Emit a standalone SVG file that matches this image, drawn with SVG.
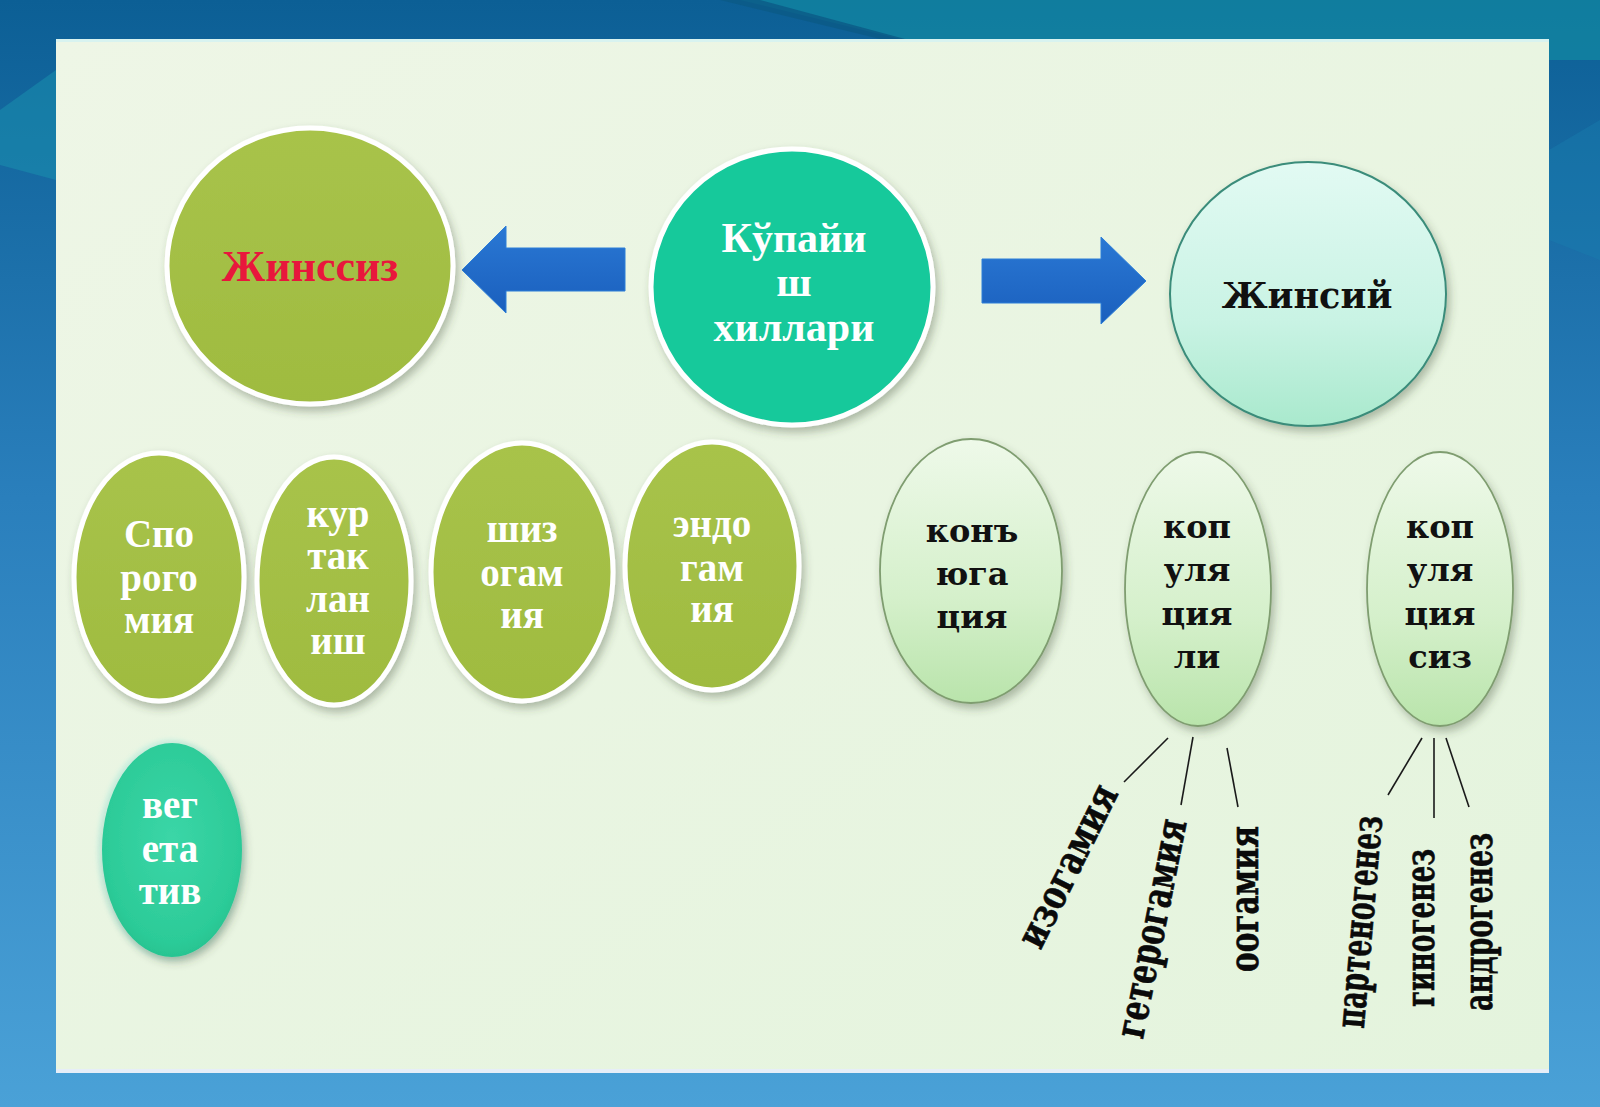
<svg xmlns="http://www.w3.org/2000/svg" width="1600" height="1107" viewBox="0 0 1600 1107">
  <defs>
    <linearGradient id="bg" x1="0" y1="0" x2="0" y2="1">
      <stop offset="0" stop-color="#0c5f95"/>
      <stop offset="0.45" stop-color="#2a7fbc"/>
      <stop offset="1" stop-color="#4aa1d7"/>
    </linearGradient>
    <linearGradient id="panel" x1="0" y1="0" x2="1" y2="1">
      <stop offset="0" stop-color="#eef6e6"/>
      <stop offset="1" stop-color="#e4f4dd"/>
    </linearGradient>
    <linearGradient id="olive" x1="0" y1="0" x2="0" y2="1">
      <stop offset="0" stop-color="#a8c34a"/>
      <stop offset="1" stop-color="#9fbb40"/>
    </linearGradient>
    <radialGradient id="veg" cx="0.5" cy="0.45" r="0.6">
      <stop offset="0" stop-color="#3bd6a7"/>
      <stop offset="0.8" stop-color="#2ccb98"/>
      <stop offset="1" stop-color="#24bf8c"/>
    </radialGradient>
    <linearGradient id="sex" x1="0" y1="0" x2="0" y2="1">
      <stop offset="0" stop-color="#e2faf3"/>
      <stop offset="0.6" stop-color="#c9f3e4"/>
      <stop offset="1" stop-color="#a9e9cd"/>
    </linearGradient>
    <linearGradient id="lg" x1="0" y1="0" x2="0" y2="1">
      <stop offset="0" stop-color="#eef9e9"/>
      <stop offset="0.6" stop-color="#d5f0cb"/>
      <stop offset="1" stop-color="#b9e4ab"/>
    </linearGradient>
    <linearGradient id="arr" x1="0" y1="0" x2="0" y2="1">
      <stop offset="0" stop-color="#2a78d4"/>
      <stop offset="1" stop-color="#1a5fbd"/>
    </linearGradient>
    <filter id="sh" x="-20%" y="-20%" width="140%" height="140%">
      <feDropShadow dx="3" dy="5" stdDeviation="4" flood-color="#3a4a30" flood-opacity="0.35"/>
    </filter>
    <filter id="soft" x="-20%" y="-20%" width="140%" height="140%">
      <feGaussianBlur stdDeviation="2"/>
    </filter>
  </defs>
  <style>
    .ol { fill: url(#olive); stroke: #ffffff; stroke-width: 5; filter: url(#sh); }
    .lt { fill: url(#lg); stroke: #7f9d70; stroke-width: 1.8; filter: url(#sh); }
    .wt { font-family: "Liberation Serif", "DejaVu Serif", serif; font-weight: bold; fill: #ffffff; text-anchor: middle; }
    .bk { font-family: "DejaVu Serif", "Liberation Serif", serif; font-weight: bold; fill: #111111; text-anchor: middle; }
    .rt { font-family: "DejaVu Serif", "Liberation Serif", serif; font-weight: bold; fill: #0a0a0a; text-anchor: middle; font-size: 41px; stroke: #0a0a0a; stroke-width: 0.6; }
    .ln { stroke: #1a1a1a; stroke-width: 1.6; fill: none; }
    .ar { fill: url(#arr); stroke: #2d7fd8; stroke-width: 1; }
  </style>

  <!-- background -->
  <rect x="0" y="0" width="1600" height="1107" fill="url(#bg)"/>
  <polygon points="740,0 1600,0 1600,60 1549,60 1549,39 900,39" fill="#138aa3" opacity="0.7"/>
  <polygon points="720,0 760,0 905,39 880,39" fill="#0b5a86" opacity="0.8"/>
  <polygon points="0,110 56,70 56,180 0,165" fill="#1a93b0" opacity="0.5"/>
  <polygon points="1549,150 1600,120 1600,260 1549,240" fill="#1a7fb0" opacity="0.4"/>

  <!-- panel -->
  <rect x="56" y="39" width="1493" height="1034" fill="url(#panel)"/>
  <rect x="56" y="39" width="1493" height="3" fill="#d8f3f0"/>
  <rect x="56" y="1069" width="1493" height="4" fill="#e6eef8"/>

  <!-- connectors -->
  <g id="connectors">
    <polygon class="ar" points="462,270 506,226 506,248 625,248 625,291 506,291 506,313"/>
    <polygon class="ar" points="982,259 1101,259 1101,237 1146,281 1101,324 1101,303 982,303"/>
    <line class="ln" x1="1168" y1="738" x2="1124" y2="782"/>
    <line class="ln" x1="1193" y1="737" x2="1181" y2="805"/>
    <line class="ln" x1="1227" y1="748" x2="1238" y2="807"/>
    <line class="ln" x1="1422" y1="738" x2="1388" y2="795"/>
    <line class="ln" x1="1434" y1="738" x2="1434" y2="818"/>
    <line class="ln" x1="1446" y1="738" x2="1469" y2="807"/>
  </g>

  <!-- top nodes -->
  <g id="node-jinssiz">
    <ellipse class="ol" cx="310" cy="266" rx="143" ry="138"/>
    <text x="310" y="281" font-family="Liberation Serif, DejaVu Serif, serif" font-weight="bold" font-size="44" fill="#e8173c" text-anchor="middle">Жинссиз</text>
  </g>

  <g id="node-kupayish">
    <ellipse cx="792" cy="287" rx="141" ry="138" fill="#16c99b" stroke="#ffffff" stroke-width="5" filter="url(#sh)"/>
    <text class="wt" font-size="42" x="794" y="252">Кўпайи</text>
    <text class="wt" font-size="42" x="794" y="296">ш</text>
    <text class="wt" font-size="42" x="794" y="341">хиллари</text>
  </g>

  <g id="node-jinsiy">
    <ellipse cx="1308" cy="294" rx="138" ry="132" fill="url(#sex)" stroke="#3a8c7a" stroke-width="2" filter="url(#sh)"/>
    <text class="bk" font-size="35" x="1307" y="308">Жинсий</text>
  </g>

  <!-- asexual children -->
  <g id="node-sporogomiya">
    <ellipse class="ol" cx="159" cy="577" rx="85" ry="124"/>
    <text class="wt" font-size="39" x="159" y="547">Спо</text>
    <text class="wt" font-size="39" x="159" y="591">рого</text>
    <text class="wt" font-size="39" x="159" y="633">мия</text>
  </g>

  <g id="node-kurtaklanish">
    <ellipse class="ol" cx="334" cy="581" rx="77" ry="124"/>
    <text class="wt" font-size="39" x="338" y="527">кур</text>
    <text class="wt" font-size="39" x="338" y="569">так</text>
    <text class="wt" font-size="39" x="338" y="612">лан</text>
    <text class="wt" font-size="39" x="338" y="654">иш</text>
  </g>

  <g id="node-shizogamiya">
    <ellipse class="ol" cx="522" cy="572" rx="91" ry="129"/>
    <text class="wt" font-size="39" x="522" y="542">шиз</text>
    <text class="wt" font-size="39" x="522" y="586">огам</text>
    <text class="wt" font-size="39" x="522" y="628">ия</text>
  </g>

  <g id="node-endogamiya">
    <ellipse class="ol" cx="712" cy="566" rx="87" ry="124"/>
    <text class="wt" font-size="39" x="712" y="537">эндо</text>
    <text class="wt" font-size="39" x="712" y="581">гам</text>
    <text class="wt" font-size="39" x="712" y="622">ия</text>
  </g>

  <g id="node-vegetativ">
    <ellipse cx="171" cy="850" rx="74" ry="111" fill="#c8f0e0" opacity="0.8" filter="url(#soft)"/>
    <ellipse cx="172" cy="850" rx="70" ry="107" fill="url(#veg)" filter="url(#sh)"/>
    <text class="wt" font-size="39" x="170" y="818">вег</text>
    <text class="wt" font-size="39" x="170" y="862">ета</text>
    <text class="wt" font-size="39" x="170" y="904">тив</text>
  </g>

  <!-- sexual children -->
  <g id="node-konyugatsiya">
    <ellipse class="lt" cx="971" cy="571" rx="91" ry="132"/>
    <text class="bk" font-size="32" x="972" y="542">конъ</text>
    <text class="bk" font-size="32" x="972" y="585">юга</text>
    <text class="bk" font-size="32" x="972" y="628">ция</text>
  </g>

  <g id="node-kopulyatsiyali">
    <ellipse class="lt" cx="1198" cy="589" rx="73" ry="137"/>
    <text class="bk" font-size="32" x="1197" y="538">коп</text>
    <text class="bk" font-size="32" x="1197" y="581">уля</text>
    <text class="bk" font-size="32" x="1197" y="625">ция</text>
    <text class="bk" font-size="32" x="1197" y="668">ли</text>
  </g>

  <g id="node-kopulyatsiyasiz">
    <ellipse class="lt" cx="1440" cy="589" rx="73" ry="137"/>
    <text class="bk" font-size="32" x="1440" y="538">коп</text>
    <text class="bk" font-size="32" x="1440" y="581">уля</text>
    <text class="bk" font-size="32" x="1440" y="625">ция</text>
    <text class="bk" font-size="32" x="1440" y="668">сиз</text>
  </g>

  <!-- rotated leaf labels -->
  <g id="label-izogamiya">
    <text class="rt" transform="translate(1070,867) rotate(-63.5)" x="0" y="11" textLength="176" lengthAdjust="spacingAndGlyphs">изогамия</text>
  </g>
  <g id="label-geterogamiya">
    <text class="rt" transform="translate(1154,929) rotate(-78.6)" x="0" y="11" textLength="222" lengthAdjust="spacingAndGlyphs">гетерогамия</text>
  </g>
  <g id="label-oogamiya">
    <text class="rt" transform="translate(1247,899) rotate(-90)" x="0" y="11" textLength="146" lengthAdjust="spacingAndGlyphs">оогамия</text>
  </g>
  <g id="label-partenogenez">
    <text class="rt" transform="translate(1362,922) rotate(-85)" x="0" y="11" textLength="213" lengthAdjust="spacingAndGlyphs">партеногенез</text>
  </g>
  <g id="label-ginogenez">
    <text class="rt" transform="translate(1423,928) rotate(-90)" x="0" y="11" textLength="158" lengthAdjust="spacingAndGlyphs">гиногенез</text>
  </g>
  <g id="label-androgenez">
    <text class="rt" transform="translate(1481,922) rotate(-90)" x="0" y="11" textLength="178" lengthAdjust="spacingAndGlyphs">андрогенез</text>
  </g>
</svg>
